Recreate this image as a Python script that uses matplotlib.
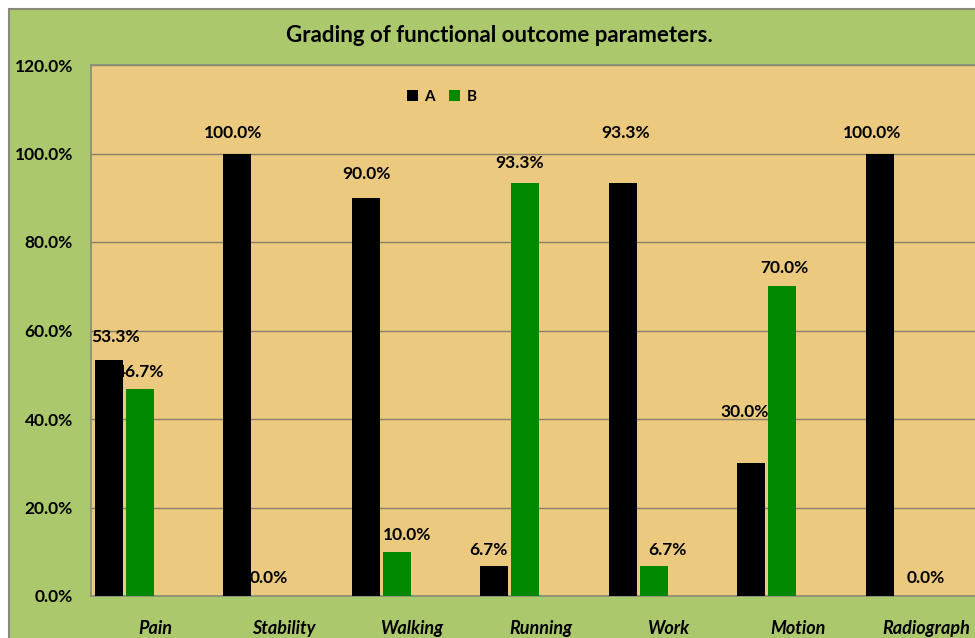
import matplotlib
matplotlib.use("Agg")
import matplotlib.pyplot as plt
from matplotlib.patches import Rectangle
import numpy as np

# Data
categories = ["Pain", "Stability", "Walking", "Running", "Work", "Motion", "Radiograph"]
seriesA = [53.3, 100.0, 90.0, 6.7, 93.3, 30.0, 100.0]
seriesB = [46.7, 0.0, 10.0, 93.3, 6.7, 70.0, 0.0]
yTicks = [0, 20, 40, 60, 80, 100, 120]

# Label offsets (pixels) relative to the top centre of each bar
offsetsA = [(7, 23), (-4, 21), (1, 24), (-6, 16), (3, 50), (-7, 51), (-8, 21)]
offsetsB = [(0, 17), (1, 18), (10, 17), (-6, 20), (14, 16), (2, 18), (15, 18)]

plt.rcParams['font.family'] = ['Lato', 'DejaVu Sans']

W, H = 975, 638
fig = plt.figure(figsize=(W / 100, H / 100), dpi=100)
fig.patch.set_facecolor("white")

# Green chart frame
fig.patches.append(Rectangle((9 / W, -0.1), 1.2, (H - 9) / H + 0.1, transform=fig.transFigure,
                             facecolor="#abc86c", edgecolor="#8a8a7a", linewidth=1.5, zorder=-10))

ax = fig.add_axes([91 / W, (H - 596) / H, (990.5 - 91) / W, (596 - 65) / H])
ax.set_facecolor("#ebc97e")

index = np.arange(len(categories))
step = 31 / 128.5
width = 28 / 128.5
barsA = ax.bar(index - 1.5 * step, seriesA, width, color="#000000", label="A", zorder=3)
barsB = ax.bar(index - 0.5 * step, seriesB, width, color="#008800", label="B", zorder=3)

for bars, vals, offs in [(barsA, seriesA, offsetsA), (barsB, seriesB, offsetsB)]:
    for b, v, (dx, dy) in zip(bars, vals, offs):
        ax.annotate("%.1f%%" % v, (b.get_x() + b.get_width() / 2, v),
                    xytext=(dx * 0.72, dy * 0.72), textcoords="offset points",
                    ha="center", va="center", fontsize=12.5, fontweight="bold", zorder=5)

ax.set_xlim(-0.5, len(categories) - 0.5)
ax.set_ylim(0, 120)
ax.set_yticks(yTicks)
ax.set_yticklabels(["%.1f%%" % t for t in yTicks], fontsize=12.5, fontweight="bold")
ax.set_xticks(index)
ax.set_xticklabels(categories, fontsize=13, fontweight="bold", style="italic")
ax.tick_params(axis="both", length=0)
ax.tick_params(axis="y", pad=13)
ax.tick_params(axis="x", pad=17)
ax.grid(axis="y", color="#8a8068", linewidth=1, zorder=1)
ax.set_axisbelow(True)
for s in ax.spines.values():
    s.set_color("#8a8a7a")
    s.set_linewidth(1.2)

leg = ax.legend(loc="center left", bbox_to_anchor=((407 - 91) / (990.5 - 91), (596 - 97) / 531), ncol=2,
                frameon=False, borderpad=0, borderaxespad=0,
                handlelength=0.75, handleheight=0.75, handletextpad=0.4, columnspacing=0.9,
                prop={"weight": "bold", "size": 11})

fig.text(499 / W, 1 - 35 / H, "Grading of functional outcome parameters.", ha="center", va="center",
         fontsize=16, fontweight="bold")

fig.savefig("out.png", dpi=100)
